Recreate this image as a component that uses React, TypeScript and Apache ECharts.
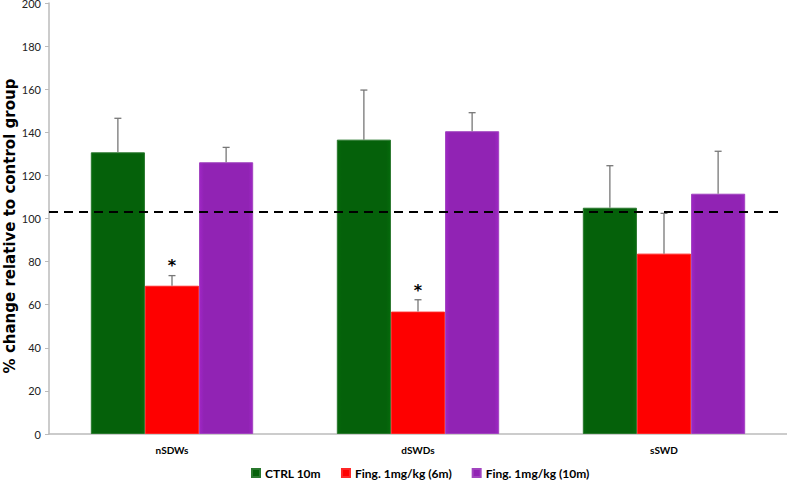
import React, { useEffect, useRef } from "react";
import * as echarts from "echarts";

const categories = ["nSDWs", "dSWDs", "sSWD"];
const seriesNames = ["CTRL 10m", "Fing. 1mg/kg (6m)", "Fing. 1mg/kg (10m)"];
const ctrlValues = [130.7, 136.6, 105.0];
const ctrlErrTop = [146.5, 159.6, 124.5];
const fing6Values = [68.8, 56.8, 83.7];
const fing6ErrTop = [73.5, 62.3, 102.4];
const fing10Values = [126.1, 140.5, 111.5];
const fing10ErrTop = [133.0, 149.1, 131.2];
const asteriskCats = [0, 1];
const asteriskValues = [79.2, 67.4];
const referenceLine = 103;
const yTicks = { min: 0, max: 200, interval: 20 };
const yAxisTitle = "% change relative to control group";

const colors = ["#05610a", "#fe0000", "#9123b4"];
const BAR_FRAC = 0.22;

export default function App() {
  const ref = useRef<HTMLDivElement>(null);
  useEffect(() => {
    if (!ref.current) return;
    const chart = echarts.init(ref.current, null, { renderer: "svg" });
    const font = "Lato, 'Open Sans', sans-serif";
    const valueSets = [ctrlValues, fing6Values, fing10Values];
    const errSets = [ctrlErrTop, fing6ErrTop, fing10ErrTop];

    const barSeries: any[] = valueSets.map((vals, i) => ({
      type: "bar",
      name: seriesNames[i],
      data: vals,
      barWidth: BAR_FRAC * 100 + "%",
      barGap: "0%",
      itemStyle: {
        color: new echarts.graphic.LinearGradient(0, 0, 1, 0, [
          { offset: 0, color: echarts.color.lift(colors[i], -0.1) },
          { offset: 0.08, color: colors[i] },
          { offset: 0.92, color: colors[i] },
          { offset: 1, color: echarts.color.lift(colors[i], -0.1) },
        ]),
        borderColor: echarts.color.lift(colors[i], 0.15),
        borderWidth: 1,
      },
      z: 2,
    }));

    barSeries[0].markLine = {
      silent: true,
      symbol: "none",
      label: { show: false },
      lineStyle: { color: "#000", type: [9, 6], width: 2 },
      data: [[{ yAxis: referenceLine, x: 49 }, { yAxis: referenceLine, x: 778 }]],
      z: 5,
    };

    const errSeries: any[] = errSets.map((errs, i) => ({
      type: "custom",
      name: "err" + i,
      data: errs.map((e, k) => [k, valueSets[i][k], e]),
      z: 3,
      renderItem: (params: any, api: any) => {
        const cat = api.value(0);
        const bw = api.size([1, 0])[0] * BAR_FRAC;
        const off = (i - 1) * bw;
        const base = api.coord([cat, api.value(1)]);
        const top = api.coord([cat, api.value(2)]);
        const x = base[0] + off;
        const style = { stroke: "#777", lineWidth: 1.3 };
        return {
          type: "group",
          children: [
            { type: "line", shape: { x1: x, y1: base[1], x2: x, y2: top[1] }, style },
            { type: "line", shape: { x1: x - 3.5, y1: top[1], x2: x + 3.5, y2: top[1] }, style },
          ],
        };
      },
    }));

    const asteriskSeries = {
      type: "custom",
      name: "asterisk",
      data: asteriskCats.map((c, k) => [c, asteriskValues[k]]),
      z: 4,
      renderItem: (params: any, api: any) => {
        const p = api.coord([api.value(0), api.value(1)]);
        return {
          type: "text",
          x: p[0],
          y: p[1] + 2,
          style: {
            text: "*",
            fontSize: 16,
            fontWeight: "bold",
            fontFamily: "'DejaVu Sans', sans-serif",
            fill: "#000",
            align: "center",
            verticalAlign: "middle",
          },
        };
      },
    };

    chart.setOption({
      animation: false,
      grid: { left: 49, right: 0, top: 3, bottom: 48, containLabel: false, outerBoundsMode: "none" },
      graphic: [
        {
          type: "text",
          x: 10,
          y: 226,
          rotation: Math.PI / 2,
          style: {
            text: yAxisTitle,
            fontFamily: "'DejaVu Sans', sans-serif",
            fontWeight: "bold",
            fontSize: 15,
            fill: "#000",
            align: "center",
            verticalAlign: "middle",
          },
        },
      ],
      legend: {
        data: seriesNames.map((n, i) => ({ name: n, itemStyle: { color: colors[i] } })),
        top: 462,
        left: 246,
        itemWidth: 8,
        itemHeight: 8,
        itemGap: 20,
        icon: "rect",
        textStyle: { fontFamily: font, fontWeight: "bold", fontSize: 12, color: "#000" },
      },
      xAxis: {
        type: "category",
        data: categories,
        axisLine: { lineStyle: { color: "#bbb", width: 1.5 } },
        axisTick: { show: false },
        axisLabel: { fontFamily: font, fontWeight: "bold", fontSize: 10, color: "#000", margin: 11 },
      },
      yAxis: {
        type: "value",
        min: yTicks.min,
        max: yTicks.max,
        interval: yTicks.interval,
        axisLine: { show: true, lineStyle: { color: "#bbb", width: 1.5 } },
        axisTick: { show: true, length: 4, lineStyle: { color: "#bbb" } },
        splitLine: { show: false },
        axisLabel: { fontFamily: font, fontSize: 11, color: "#222", margin: 8 },
      },
      series: [...barSeries, ...errSeries, asteriskSeries],
    });
    return () => chart.dispose();
  }, []);
  return <div ref={ref} style={{ width: 787, height: 482, position: "absolute", left: 0, top: 0 }} />;
}
